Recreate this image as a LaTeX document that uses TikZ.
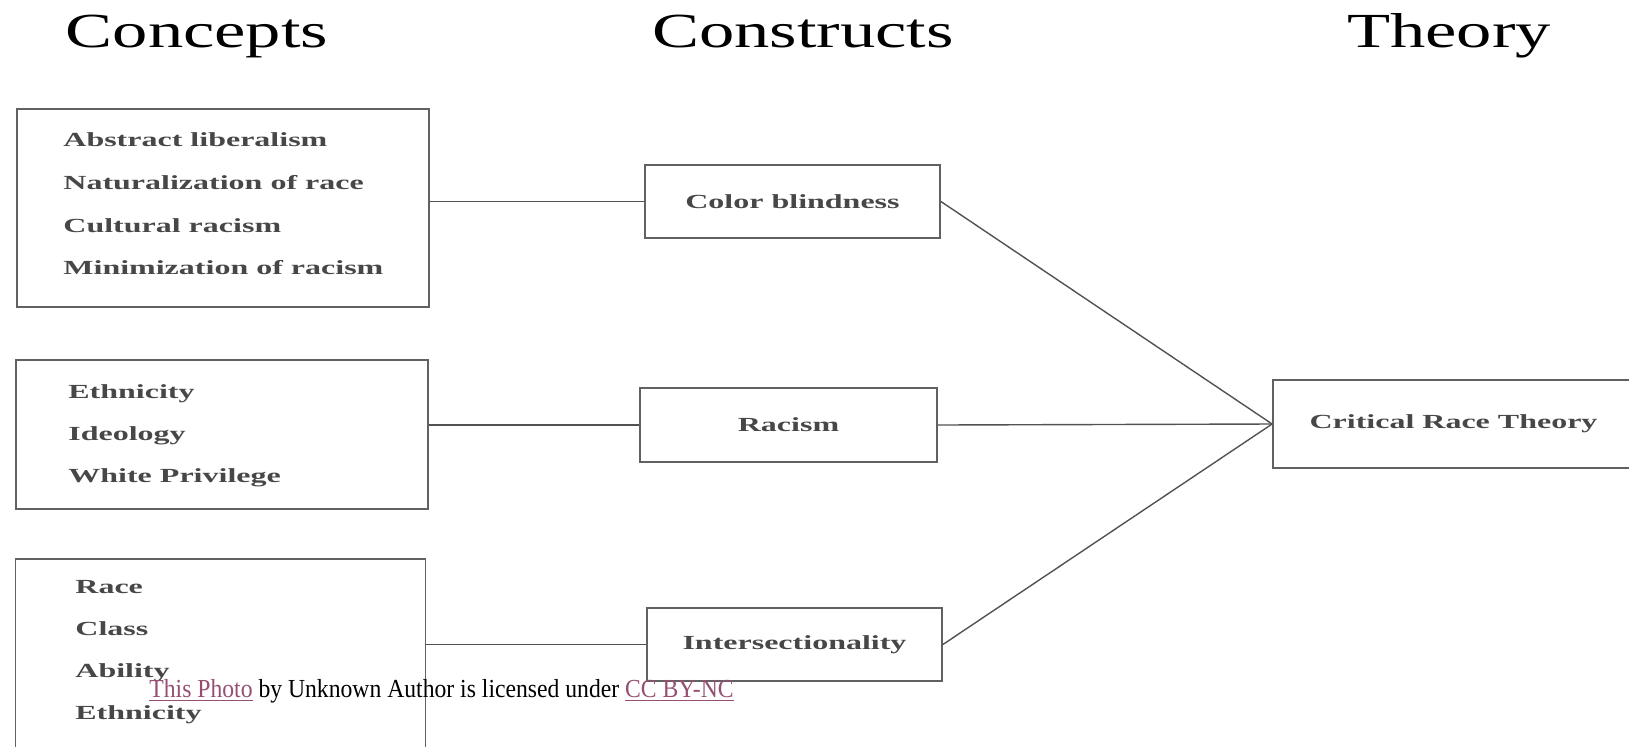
\documentclass[tikz,border=0pt]{standalone}
\usepackage{fontspec}
\setmainfont{Liberation Serif}
\usepackage{graphicx}
\usetikzlibrary{positioning}

\definecolor{linkred}{HTML}{954F72}
\newcommand{\wide}[1]{\scalebox{1.6}[1]{\bfseries #1}}
\newcommand{\wideheading}[1]{\scalebox{1.44}[1]{#1}}

\tikzset{
  heading/.style={anchor=base, inner sep=0pt, font=\fontsize{24.5pt}{28pt}\selectfont},
  item/.style={anchor=base west, inner sep=0pt, text=black!72, font=\fontsize{10pt}{12pt}\selectfont},
  framebox/.style={draw=black!62, line width=0.9pt, inner sep=0pt, text=black!72,
                   font=\fontsize{10pt}{12pt}\selectfont},
  link/.style={draw=black!68, line width=0.7pt}
}

\begin{document}
\begin{tikzpicture}[x=0.5pt, y=-0.5pt]

\useasboundingbox (0,0) rectangle (1629,746);

% column headings
\node[heading] (hconcepts)   at (197,47)  {\wideheading{Concepts}};
\node[heading] (hconstructs) at (803,47)  {\wideheading{Constructs}};
\node[heading] (htheory)     at (1449,47) {\wideheading{Theory}};

% concept boxes
\node[framebox, minimum width=206pt, minimum height=99pt]   (c1) at (223,208) {};
\node[framebox, minimum width=206pt, minimum height=74.5pt] (c2) at (222,434.5) {};
\node[framebox, minimum width=205pt, minimum height=106pt, anchor=north west] (c3) at (14.5,558) {};

\foreach \txt [count=\i] in {Abstract liberalism, Naturalization of race, Cultural racism, Minimization of racism}
    \node[item] (a\i) at (63,{146.7+42.7*(\i-1)}) {\wide{\txt}};

\foreach \txt [count=\i] in {Ethnicity, Ideology, White Privilege}
    \node[item] (b\i) at (68,{398+42*(\i-1)}) {\wide{\txt}};

\foreach \txt [count=\i] in {Race, Class, Ability, Ethnicity}
    \node[item] (d\i) at (75,{593+42.3*(\i-1)}) {\wide{\txt}};

% constructs
\node[framebox, minimum width=147.5pt, minimum height=36.5pt] (cb)  at (792.5,201.5) {\wide{Color blindness}};
\node[framebox, minimum width=148.5pt, minimum height=37pt]   (rac) at (788.5,425)   {\wide{Racism}};
\node[framebox, minimum width=147.5pt, minimum height=36.5pt] (ins) at (794.5,644.5) {\wide{Intersectionality}};

% theory
\node[framebox, minimum width=180.5pt, minimum height=44pt] (crt) at (1453.5,424) {\wide{Critical Race Theory}};

\draw[link] (cb.west -| c1.east)  -- (cb.west);
\draw[link] (rac.west -| c2.east) -- (rac.west);
\draw[link] (ins.west -| c3.east) -- (ins.west);

\draw[link] (cb.east)  -- (crt.west);
\draw[link] (rac.east) -- (crt.west);
\draw[link] (ins.east) -- (crt.west);

% credit line
\node[anchor=base west, inner sep=0pt, font=\fontsize{13pt}{15pt}\selectfont] (credit) at (149,697)
    {\scalebox{0.91}[1]{\textcolor{linkred}{\underline{This Photo}} by Unknown Author is licensed under \textcolor{linkred}{\underline{CC BY-NC}}}};

\end{tikzpicture}
\end{document}
